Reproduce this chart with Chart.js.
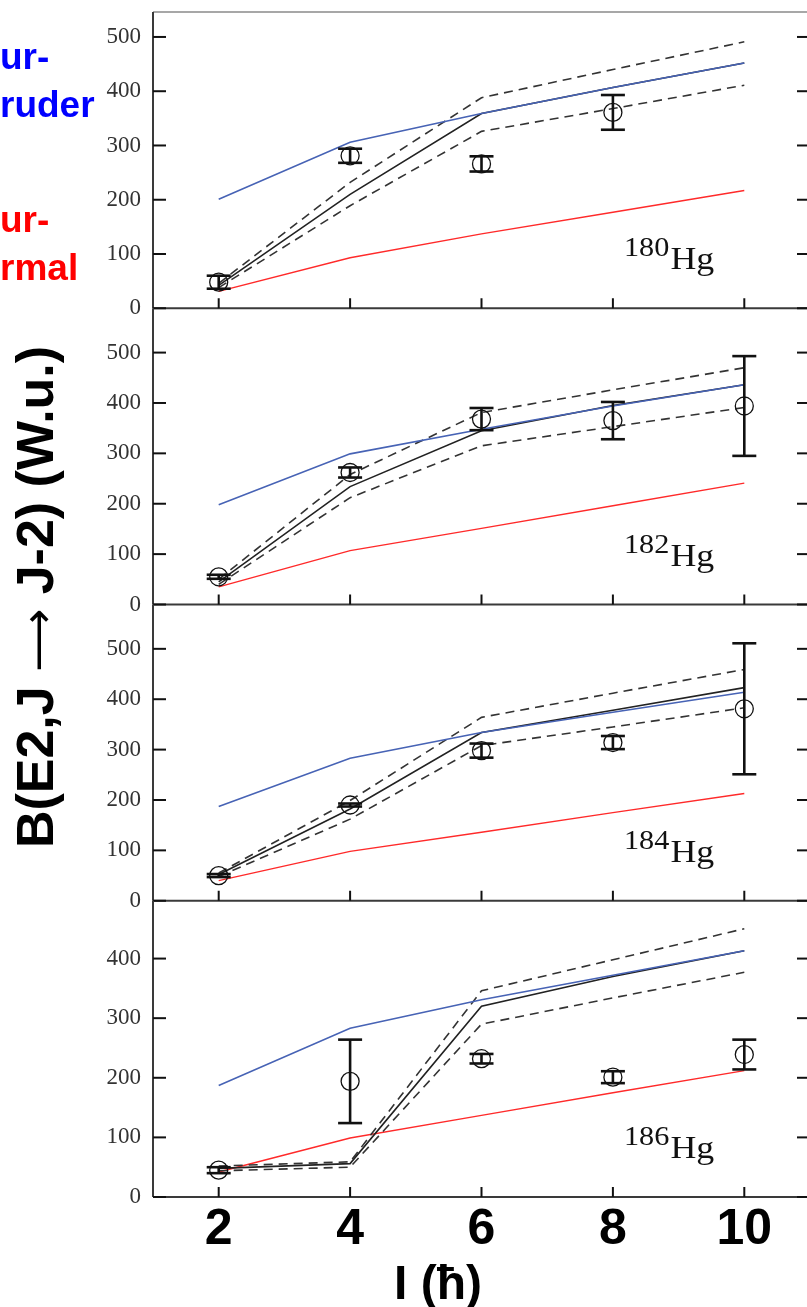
<!DOCTYPE html>
<html>
<head>
<meta charset="utf-8">
<script src="https://cdn.jsdelivr.net/npm/chart.js@4.4.1/dist/chart.umd.min.js"></script>
<style>
  body { margin: 0; width: 807px; height: 1307px; overflow: hidden; background: #fff; }
  #wrap { position: relative; width: 811px; height: 1307px; }
  #myChart { position: absolute; left: 0; top: 0; }
  .side { position: absolute; left: 0; font: bold 37px 'Liberation Sans', Arial, sans-serif; line-height: 48px; white-space: nowrap; }
  #ytitle { position: absolute; left: -265px; top: 567px; width: 600px; height: 60px; line-height: 60px;
            text-align: center; font: bold 52px 'Liberation Sans', Arial, sans-serif; color: #000;
            transform: rotate(-90deg); white-space: nowrap; }
  #ytitle span { font-weight: normal; font-family: 'DejaVu Sans', sans-serif; font-size: 44px; }
  #xtitle { position: absolute; left: 394px; top: 1255px; font: bold 48px 'Liberation Sans', Arial, sans-serif;
            line-height: 56px; color: #000; white-space: nowrap; }
</style>
</head>
<body>
<div id="wrap">
  <canvas id="myChart" width="811" height="1307"></canvas>
  <div class="side" style="top:33px;color:#0000ff">ur-<br>ruder</div>
  <div class="side" style="top:196px;color:#ff0000">ur-<br>rmal</div>
  <div id="ytitle">B(E2,J <span>⟶</span> J-2) (W.u.)</div>
  <div id="xtitle">I (ħ)</div>
</div>
<script>
const spins = [2, 4, 6, 8, 10];
const yTicks = [0, 100, 200, 300, 400, 500];
const isotopes = ['180', '182', '184', '186'];
const yMax = [546, 588, 588, 497];

// 180Hg
const intruder180 = [201, 306, 359, 407, 452];
const normal180 = [31, 93, 137, 177, 217];
const mixed180 = [42, 210, 359, 407, 452];
const mixedHi180 = [46, 232, 388, 440, 491];
const mixedLo180 = [38, 189, 326, 368, 411];
const exp180 = [48, 281, 266, 361, null];
const err180 = [12, 13, 14, 32, null];

// 182Hg
const intruder182 = [198, 299, 348, 394, 436];
const normal182 = [35, 107, 151, 196, 241];
const mixed182 = [45, 234, 345, 395, 436];
const mixedHi182 = [50, 258, 381, 426, 470];
const mixedLo182 = [40, 212, 315, 353, 391];
const exp182 = [55, 262, 368, 365, 394];
const err182 = [4, 10, 22, 37, 99];

// 184Hg
const intruder184 = [187, 283, 334, 374, 414];
const normal184 = [40, 98, 136, 175, 213];
const mixed184 = [52, 182, 334, 378, 423];
const mixedHi184 = [55, 199, 364, 412, 459];
const mixedLo184 = [48, 162, 308, 345, 383];
const exp184 = [50, 190, 298, 314, 381];
const err184 = [3, 3, 14, 13, 130];

// 186Hg
const intruder186 = [187, 283, 331, 372, 413];
const normal186 = [42, 99, 137, 175, 212];
const mixed186 = [48, 56, 320, 370, 413];
const mixedHi186 = [52, 59, 346, 398, 450];
const mixedLo186 = [44, 50, 290, 334, 377];
const exp186 = [45, 194, 232, 201, 239];
const err186 = [5, 70, 8, 10, 25];

const panels = [
  { id: 'y1', intruder: intruder180, normal: normal180, mixed: mixed180, hi: mixedHi180, lo: mixedLo180, exp: exp180, err: err180 },
  { id: 'y2', intruder: intruder182, normal: normal182, mixed: mixed182, hi: mixedHi182, lo: mixedLo182, exp: exp182, err: err182 },
  { id: 'y3', intruder: intruder184, normal: normal184, mixed: mixed184, hi: mixedHi184, lo: mixedLo184, exp: exp184, err: err184 },
  { id: 'y4', intruder: intruder186, normal: normal186, mixed: mixed186, hi: mixedHi186, lo: mixedLo186, exp: exp186, err: err186 }
];

const pts = arr => spins.map((s, i) => ({ x: s, y: arr[i] }));

function lineSet(arr, id, color, width, dash) {
  return {
    data: pts(arr), yAxisID: id, borderColor: color, borderWidth: width,
    borderDash: dash || [], pointRadius: 0, tension: 0, fill: false
  };
}

let datasets = [];
panels.forEach(p => {
  datasets.push({
    data: pts(p.exp), yAxisID: p.id, showLine: false,
    pointStyle: 'circle', pointRadius: 9, borderColor: '#111', borderWidth: 1.3,
    backgroundColor: 'rgba(0,0,0,0)'
  });
  datasets.push(lineSet(p.intruder, p.id, '#4763b5', 1.6));
  datasets.push(lineSet(p.mixed, p.id, '#222', 1.6));
  datasets.push(lineSet(p.hi, p.id, '#333', 1.6, [9, 6]));
  datasets.push(lineSet(p.lo, p.id, '#333', 1.6, [9, 6]));
  datasets.push(lineSet(p.normal, p.id, '#ff2a2a', 1.4));
});

function yScale(i) {
  return {
    type: 'linear', position: 'left', stack: 'hg', stackWeight: 1,
    min: 0, max: yMax[i],
    afterBuildTicks: s => { s.ticks = (i === 3 ? yTicks.slice(0, 5) : yTicks).map(v => ({ value: v })); },
    afterFit: s => { s.width = 153; s.paddingTop = 0; s.paddingBottom = 0; },
    grid: { display: false, drawTicks: false },
    border: { display: false },
    ticks: { font: { family: 'Liberation Serif', size: 23 }, color: '#333', padding: 12 }
  };
}

function line(ctx, x1, y1, x2, y2) {
  ctx.beginPath(); ctx.moveTo(x1, y1); ctx.lineTo(x2, y2); ctx.stroke();
}

const framePlugin = {
  id: 'frame',
  afterDatasetsDraw(chart) {
    const { ctx, chartArea: a, scales } = chart;
    const xs = scales.x;
    ctx.save();
    ctx.strokeStyle = '#8a8a8a'; ctx.lineWidth = 1.5;
    line(ctx, a.left, a.top, a.right, a.top);
    panels.forEach((p, i) => {
      const s = scales[p.id];
      ctx.strokeStyle = '#3a3a3a'; ctx.lineWidth = 2;
      line(ctx, a.left, s.top, a.left, s.bottom);
      line(ctx, a.left, s.bottom, a.right, s.bottom);
      ctx.strokeStyle = '#111';
      s.ticks.forEach(t => {
        const py = s.getPixelForValue(t.value);
        line(ctx, a.left, py, a.left + 13, py);
        line(ctx, a.right - 13, py, a.right, py);
      });
      spins.forEach(v => {
        const px = xs.getPixelForValue(v);
        line(ctx, px, s.bottom, px, s.bottom - 10);
      });

      // error bars
      ctx.strokeStyle = '#111'; ctx.lineWidth = 2.6;
      p.exp.forEach((v, k) => {
        if (v === null) return;
        const px = xs.getPixelForValue(spins[k]);
        const yHi = s.getPixelForValue(v + p.err[k]);
        const yLo = s.getPixelForValue(v - p.err[k]);
        line(ctx, px, yHi, px, yLo);
        line(ctx, px - 12, yHi, px + 12, yHi);
        line(ctx, px - 12, yLo, px + 12, yLo);
      });

      // isotope label
      const x0 = xs.getPixelForValue(8) + 11;
      const yb = s.bottom - 39;
      ctx.fillStyle = '#111';
      ctx.textBaseline = 'alphabetic';
      ctx.save();
      ctx.translate(x0, yb);
      ctx.scale(1.12, 1);
      ctx.font = '27px "Liberation Serif"';
      ctx.fillText(isotopes[i], 0, -13);
      const w = ctx.measureText(isotopes[i]).width;
      ctx.font = '32px "Liberation Serif"';
      ctx.fillText('Hg', w + 1, 0);
      ctx.restore();
    });
    ctx.restore();
  }
};

// stacked left axes are laid out bottom-up, so list the lowest panel first
const scales = {
  x: {
    type: 'linear', min: 1, max: 11,
    afterBuildTicks: s => { s.ticks = spins.map(v => ({ value: v })); },
    afterFit: s => { s.height = 110; s.paddingLeft = 0; s.paddingRight = 0; },
    grid: { display: false, drawTicks: false },
    border: { display: false },
    ticks: { font: { family: 'Liberation Sans', size: 50, weight: 'bold' }, color: '#000', padding: 3 }
  }
};
for (let i = panels.length - 1; i >= 0; i--) {
  scales[panels[i].id] = yScale(i);
}

const ctx = document.getElementById('myChart');
new Chart(ctx, {
  type: 'line',
  data: { datasets: datasets },
  plugins: [framePlugin],
  options: {
    responsive: false,
    animation: false,
    devicePixelRatio: 1,
    layout: { autoPadding: false, padding: { top: 12, left: 0, right: 1, bottom: 0 } },
    plugins: { legend: { display: false }, tooltip: { enabled: false } },
    scales: scales
  }
});
</script>
</body>
</html>
